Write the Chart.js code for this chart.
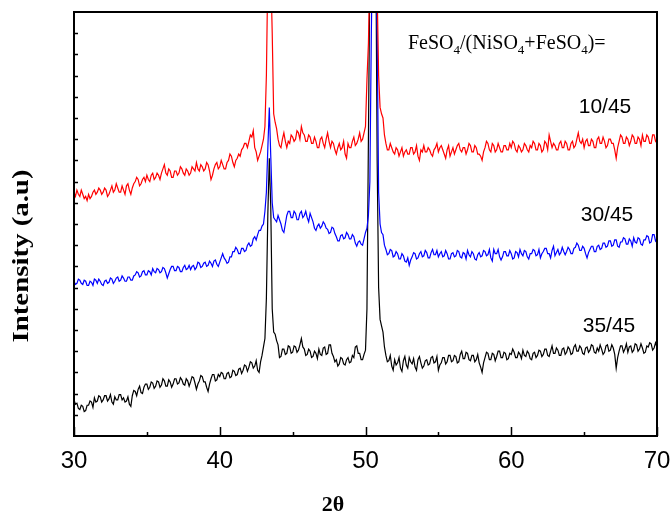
<!DOCTYPE html>
<html>
<head>
<meta charset="utf-8">
<title>XRD patterns</title>
<script src="https://cdn.jsdelivr.net/npm/chart.js@4.4.1/dist/chart.umd.min.js"></script>
<style>
  html, body { margin: 0; padding: 0; background: #fff; }
  #wrap { width: 672px; height: 514px; }
</style>
</head>
<body>
<div id="wrap"><canvas id="xrd" width="672" height="514"></canvas></div>
<script>
// 2theta sampling points, one row per degree
const twoTheta = [
  30.0, 30.1, 30.2, 30.3, 30.4, 30.5, 30.6, 30.7, 30.8, 30.9,
  31.0, 31.1, 31.2, 31.3, 31.4, 31.5, 31.6, 31.7, 31.8, 31.9,
  32.0, 32.1, 32.2, 32.3, 32.4, 32.5, 32.6, 32.7, 32.8, 32.9,
  33.0, 33.1, 33.2, 33.3, 33.4, 33.5, 33.6, 33.7, 33.8, 33.9,
  34.0, 34.1, 34.2, 34.3, 34.4, 34.5, 34.6, 34.7, 34.8, 34.9,
  35.0, 35.1, 35.2, 35.3, 35.4, 35.5, 35.6, 35.7, 35.8, 35.9,
  36.0, 36.1, 36.2, 36.3, 36.4, 36.5, 36.6, 36.7, 36.8, 36.9,
  37.0, 37.1, 37.2, 37.3, 37.4, 37.5, 37.6, 37.7, 37.8, 37.9,
  38.0, 38.1, 38.2, 38.3, 38.4, 38.5, 38.6, 38.7, 38.8, 38.9,
  39.0, 39.1, 39.2, 39.3, 39.4, 39.5, 39.6, 39.7, 39.8, 39.9,
  40.0, 40.1, 40.2, 40.3, 40.4, 40.5, 40.6, 40.7, 40.8, 40.9,
  41.0, 41.1, 41.2, 41.3, 41.4, 41.5, 41.6, 41.7, 41.8, 41.9,
  42.0, 42.1, 42.2, 42.3, 42.4, 42.5, 42.6, 42.7, 42.8, 42.9,
  43.0, 43.1, 43.2, 43.3, 43.4, 43.5, 43.6, 43.7, 43.8, 43.9,
  44.0, 44.1, 44.2, 44.3, 44.4, 44.5, 44.6, 44.7, 44.8, 44.9,
  45.0, 45.1, 45.2, 45.3, 45.4, 45.5, 45.6, 45.7, 45.8, 45.9,
  46.0, 46.1, 46.2, 46.3, 46.4, 46.5, 46.6, 46.7, 46.8, 46.9,
  47.0, 47.1, 47.2, 47.3, 47.4, 47.5, 47.6, 47.7, 47.8, 47.9,
  48.0, 48.1, 48.2, 48.3, 48.4, 48.5, 48.6, 48.7, 48.8, 48.9,
  49.0, 49.1, 49.2, 49.3, 49.4, 49.5, 49.6, 49.7, 49.8, 49.9,
  50.0, 50.1, 50.2, 50.3, 50.4, 50.5, 50.6, 50.7, 50.8, 50.9,
  51.0, 51.1, 51.2, 51.3, 51.4, 51.5, 51.6, 51.7, 51.8, 51.9,
  52.0, 52.1, 52.2, 52.3, 52.4, 52.5, 52.6, 52.7, 52.8, 52.9,
  53.0, 53.1, 53.2, 53.3, 53.4, 53.5, 53.6, 53.7, 53.8, 53.9,
  54.0, 54.1, 54.2, 54.3, 54.4, 54.5, 54.6, 54.7, 54.8, 54.9,
  55.0, 55.1, 55.2, 55.3, 55.4, 55.5, 55.6, 55.7, 55.8, 55.9,
  56.0, 56.1, 56.2, 56.3, 56.4, 56.5, 56.6, 56.7, 56.8, 56.9,
  57.0, 57.1, 57.2, 57.3, 57.4, 57.5, 57.6, 57.7, 57.8, 57.9,
  58.0, 58.1, 58.2, 58.3, 58.4, 58.5, 58.6, 58.7, 58.8, 58.9,
  59.0, 59.1, 59.2, 59.3, 59.4, 59.5, 59.6, 59.7, 59.8, 59.9,
  60.0, 60.1, 60.2, 60.3, 60.4, 60.5, 60.6, 60.7, 60.8, 60.9,
  61.0, 61.1, 61.2, 61.3, 61.4, 61.5, 61.6, 61.7, 61.8, 61.9,
  62.0, 62.1, 62.2, 62.3, 62.4, 62.5, 62.6, 62.7, 62.8, 62.9,
  63.0, 63.1, 63.2, 63.3, 63.4, 63.5, 63.6, 63.7, 63.8, 63.9,
  64.0, 64.1, 64.2, 64.3, 64.4, 64.5, 64.6, 64.7, 64.8, 64.9,
  65.0, 65.1, 65.2, 65.3, 65.4, 65.5, 65.6, 65.7, 65.8, 65.9,
  66.0, 66.1, 66.2, 66.3, 66.4, 66.5, 66.6, 66.7, 66.8, 66.9,
  67.0, 67.1, 67.2, 67.3, 67.4, 67.5, 67.6, 67.7, 67.8, 67.9,
  68.0, 68.1, 68.2, 68.3, 68.4, 68.5, 68.6, 68.7, 68.8, 68.9,
  69.0, 69.1, 69.2, 69.3, 69.4, 69.5, 69.6, 69.7, 69.8, 69.9,
  70.0
];

// FeSO4/(NiSO4+FeSO4) = 10/45 (red), offset trace
const ratio10 = [
  11.5, 11.3, 11.6, 11.4, 11.3, 11.6, 11.4, 11.2, 11.3, 11.1,
  11.4, 11.2, 11.3, 11.5, 11.6, 11.4, 11.5, 11.7, 11.6, 11.4,
  11.5, 11.7, 11.6, 11.3, 11.4, 11.6, 11.8, 11.5, 11.6, 11.9,
  11.7, 11.5, 11.5, 11.8, 11.6, 11.4, 11.8, 11.9, 11.6, 11.4,
  11.7, 11.9, 12.0, 12.2, 12.1, 11.8, 11.9, 12.1, 12.2, 12.0,
  12.3, 12.1, 12.0, 12.3, 12.4, 12.1, 12.2, 12.4, 12.3, 12.1,
  12.4, 12.6, 12.8, 12.4, 12.3, 12.6, 12.5, 12.2, 12.2, 12.5,
  12.5, 12.3, 12.4, 12.7, 12.6, 12.4, 12.3, 12.6, 12.5, 12.3,
  12.4, 12.7, 12.6, 12.5, 12.9, 12.6, 12.5, 12.8, 12.7, 12.5,
  12.6, 12.9, 12.8, 12.5, 12.1, 12.3, 12.6, 12.8, 12.9, 12.6,
  12.7, 13.0, 12.8, 12.6, 12.6, 12.9, 13.0, 13.3, 13.2, 12.9,
  12.7, 13.0, 13.1, 13.3, 13.2, 13.5, 13.6, 13.8, 13.8, 13.6,
  13.9, 14.2, 14.1, 14.4, 13.6, 13.4, 13.0, 13.2, 13.4, 13.7,
  14.0, 14.6, 17.0, 22, 22, 22, 19, 15.2, 14.8, 14.5,
  14.0, 13.7, 13.6, 14.0, 14.3, 13.9, 13.6, 13.9, 13.8, 14.2,
  14.1, 13.9, 14.0, 14.4, 14.3, 14.0, 14.6, 14.3, 14.2, 13.9,
  13.9, 14.2, 14.1, 13.8, 13.8, 14.1, 13.9, 13.6, 13.6, 14.0,
  14.1, 13.8, 13.6, 14.0, 14.3, 13.9, 13.6, 13.9, 13.8, 13.5,
  13.3, 13.6, 13.8, 13.5, 13.6, 13.9, 13.3, 13.1, 13.8, 13.6,
  13.6, 13.9, 14.1, 13.7, 13.8, 14.0, 14.3, 13.9, 14.0, 14.3,
  14.6, 16.8, 18.5, 22, 22, 22, 22, 22, 21, 17,
  15.5, 15.2, 15.0, 14.2, 13.8, 13.5, 13.5, 13.8, 13.6, 13.4,
  13.3, 13.6, 13.5, 13.2, 13.4, 13.6, 13.2, 13.4, 13.5, 13.3,
  13.3, 13.6, 13.6, 13.3, 13.4, 13.7, 13.2, 13.0, 13.5, 13.4,
  13.7, 13.4, 13.4, 13.6, 13.5, 13.3, 13.2, 13.5, 13.6, 13.8,
  13.4, 13.6, 13.7, 13.5, 13.3, 13.1, 13.5, 13.7, 13.2, 13.4,
  13.6, 13.3, 13.5, 13.7, 13.8, 13.5, 13.4, 13.6, 13.6, 13.3,
  13.5, 13.8, 13.7, 13.4, 13.4, 13.7, 13.6, 13.3, 13.3, 13.2,
  13.0, 13.4, 13.6, 13.9, 13.8, 13.5, 13.4, 13.8, 13.7, 13.4,
  13.5, 13.8, 13.6, 13.4, 13.4, 13.7, 13.7, 13.5, 13.5, 13.8,
  13.6, 13.9, 13.8, 13.5, 13.4, 13.7, 13.6, 13.4, 13.5, 13.8,
  13.7, 13.5, 13.4, 13.7, 13.6, 13.9, 13.8, 13.5, 13.5, 13.8,
  13.7, 13.4, 13.5, 13.9, 13.8, 13.5, 14.2, 13.9, 13.6, 13.8,
  13.7, 13.5, 13.5, 13.8, 13.9, 13.6, 13.6, 13.9, 13.8, 13.5,
  13.5, 13.8, 13.9, 13.6, 13.7, 14.0, 14.3, 13.9, 13.8, 14.0,
  13.6, 13.9, 14.0, 13.7, 13.7, 14.0, 13.9, 13.6, 13.6, 14.0,
  14.1, 13.8, 13.8, 14.1, 13.9, 13.6, 13.7, 14.0, 14.0, 13.8,
  13.8, 13.5, 13.1, 13.6, 13.9, 14.2, 14.1, 13.8, 13.8, 14.1,
  14.0, 13.7, 13.9, 14.2, 14.1, 13.8, 13.8, 14.1, 14.0, 13.7,
  14.2, 13.9, 13.9, 14.2, 14.1, 13.8, 13.8, 14.2, 14.2, 13.9,
  14.0
];

// 30/45 (blue)
const ratio30 = [
  7.3, 7.15, 7.2, 7.4, 7.35, 7.2, 7.15, 7.35, 7.3, 7.1,
  7.1, 7.3, 7.25, 7.1, 7.4, 7.35, 7.2, 7.4, 7.3, 7.15,
  7.1, 7.3, 7.35, 7.2, 7.25, 7.45, 7.4, 7.2, 7.3, 7.45,
  7.5, 7.3, 7.35, 7.55, 7.45, 7.3, 7.3, 7.5, 7.5, 7.35,
  7.35, 7.55, 7.6, 7.75, 7.7, 7.5, 7.55, 7.75, 7.8, 7.6,
  7.6, 7.8, 7.75, 7.6, 7.9, 7.75, 7.7, 7.9, 7.85, 7.7,
  7.75, 7.95, 7.9, 7.7, 7.45, 7.65, 7.85, 8.0, 8.0, 7.8,
  7.8, 8.0, 7.95, 7.75, 7.75, 7.95, 8.05, 7.85, 7.9, 8.05,
  7.85, 8.0, 8.05, 7.85, 7.95, 8.2, 8.15, 7.95, 8.0, 8.15,
  8.2, 8.0, 8.05, 8.25, 8.15, 8.0, 8.25, 8.3, 8.1, 8.0,
  8.2, 8.4, 8.6, 8.4, 8.3, 8.15, 8.2, 8.45, 8.45, 8.7,
  8.7, 8.9, 8.8, 8.6, 8.6, 8.85, 8.85, 8.7, 8.75, 9.0,
  9.1, 8.95, 9.0, 9.3, 9.4, 9.25, 9.5, 9.7, 9.7, 9.9,
  10.0, 10.6, 11.5, 13.6, 15.5, 13.2, 11.0, 10.3, 10.2, 10.1,
  10.4, 10.2, 10.0, 9.7, 9.6, 10.0, 10.4, 10.6, 10.6, 10.3,
  10.3, 10.6, 10.5, 10.2, 10.2, 10.5, 10.6, 10.3, 10.4, 10.6,
  10.3, 10.1, 10.5, 10.3, 10.1, 9.8, 9.7, 9.9, 10.0, 9.8,
  9.9, 10.1, 10.0, 9.8, 9.75, 9.55, 9.6, 9.85, 9.8, 9.55,
  9.4, 9.2, 9.2, 9.45, 9.5, 9.3, 9.35, 9.6, 9.5, 9.3,
  9.3, 9.5, 9.4, 9.1, 8.95, 9.15, 9.2, 9.05, 9.0, 9.3,
  9.6, 9.8, 10.4, 12.0, 19, 24, 24, 24, 19, 11.5,
  10.0, 9.6, 9.5, 9.0, 8.8, 8.55, 8.6, 8.8, 8.75, 8.45,
  8.5, 8.7, 8.6, 8.35, 8.35, 8.6, 8.5, 8.25, 8.2, 8.4,
  8.05, 8.3, 8.45, 8.65, 8.6, 8.35, 8.4, 8.6, 8.7, 8.45,
  8.5, 8.75, 8.65, 8.4, 8.4, 8.65, 8.8, 8.55, 8.55, 8.75,
  8.45, 8.6, 8.7, 8.45, 8.5, 8.75, 8.6, 8.35, 8.35, 8.6,
  8.65, 8.45, 8.5, 8.75, 8.7, 8.45, 8.4, 8.65, 8.6, 8.35,
  8.75, 8.55, 8.45, 8.7, 8.6, 8.35, 8.3, 8.55, 8.65, 8.45,
  8.5, 8.75, 8.7, 8.5, 8.55, 8.8, 8.4, 8.25, 8.8, 8.6,
  8.6, 8.8, 8.45, 8.3, 8.45, 8.7, 8.7, 8.5, 8.5, 8.75,
  8.6, 8.35, 8.4, 8.7, 8.65, 8.45, 8.8, 8.6, 8.5, 8.75,
  8.7, 8.45, 8.35, 8.6, 8.6, 8.8, 8.75, 8.5, 8.55, 8.8,
  8.4, 8.6, 8.7, 8.85, 8.85, 8.6, 8.6, 8.4, 8.75, 8.95,
  8.5, 8.65, 8.8, 8.55, 8.65, 8.9, 8.7, 8.55, 8.7, 8.9,
  8.8, 8.6, 8.6, 8.85, 8.9, 9.1, 9.0, 8.75, 8.75, 8.95,
  8.85, 8.6, 8.4, 8.65, 8.8, 8.95, 8.95, 8.7, 8.7, 8.95,
  9.0, 8.8, 8.85, 9.1, 9.1, 8.9, 8.95, 9.2, 9.2, 8.95,
  9.0, 9.25, 9.25, 8.95, 8.9, 9.15, 9.15, 9.35, 9.3, 9.05,
  9.05, 9.3, 9.2, 8.95, 9.35, 9.15, 9.1, 9.35, 9.3, 9.05,
  9.0, 9.25, 9.25, 9.45, 9.4, 9.1, 9.15, 9.5, 9.5, 9.2,
  9.3
];

// 35/45 (black)
const ratio35 = [
  1.7, 1.5, 1.55, 1.3, 1.25, 1.45, 1.4, 1.15, 1.2, 1.45,
  1.45, 1.65, 1.6, 1.35, 1.8, 1.6, 1.65, 1.9, 1.85, 1.6,
  1.7, 1.9, 1.9, 1.65, 1.75, 1.95, 1.6, 1.5, 1.85, 1.7,
  1.7, 1.95, 1.95, 1.7, 1.8, 1.6, 1.65, 1.85, 1.5, 1.4,
  1.9, 2.15, 2.1, 1.9, 2.2, 2.35, 2.05, 2.0, 2.3, 2.45,
  2.45, 2.2, 2.3, 2.55, 2.5, 2.25, 2.35, 2.6, 2.55, 2.3,
  2.4, 2.7, 2.6, 2.35, 2.35, 2.65, 2.55, 2.3, 2.45, 2.7,
  2.7, 2.45, 2.5, 2.75, 2.65, 2.45, 2.4, 2.7, 2.6, 2.35,
  2.55, 2.8, 2.75, 2.5, 2.2, 2.45, 2.6, 2.85, 2.8, 2.55,
  2.55, 2.3, 2.1, 2.45, 2.7, 2.9, 2.9, 2.6, 2.65, 2.9,
  2.8, 3.0, 2.95, 2.7, 2.7, 2.95, 3.0, 2.75, 2.8, 3.1,
  3.05, 2.85, 2.9, 3.15, 3.2, 2.95, 3.1, 3.35, 3.3, 3.05,
  3.25, 3.5, 3.45, 3.2, 3.3, 3.55, 3.1, 3.0, 3.5, 3.8,
  4.2, 4.6, 6.5, 10.5, 13.1, 10.8, 6.0, 4.9, 4.8, 4.5,
  4.3, 3.7, 3.75, 4.1, 4.1, 3.85, 3.9, 4.25, 4.2, 3.9,
  3.95, 4.25, 4.2, 3.95, 4.05, 4.3, 4.6, 4.2, 4.1, 3.8,
  3.85, 4.1, 4.0, 3.7, 3.75, 4.0, 3.9, 3.65, 4.1, 3.85,
  3.8, 4.15, 4.2, 3.85, 3.9, 4.3, 4.3, 3.9, 3.75, 3.5,
  3.6, 3.3, 3.4, 3.7, 3.65, 3.4, 3.35, 3.6, 3.7, 3.45,
  3.5, 3.8, 3.7, 4.2, 4.25, 3.9, 3.9, 3.6, 3.6, 3.85,
  4.05, 6.0, 14, 22, 24, 24, 24, 24, 13, 7.0,
  5.5, 5.2, 4.9, 4.2, 3.8, 3.5, 3.55, 3.8, 3.3, 3.1,
  3.6, 3.35, 3.45, 3.7, 3.2, 3.05, 3.55, 3.75, 3.35, 3.2,
  3.7, 3.5, 3.4, 3.65, 3.25, 3.1, 3.6, 3.75, 3.45, 3.2,
  3.3, 3.55, 3.6, 3.35, 3.4, 3.7, 3.75, 3.45, 3.5, 3.75,
  3.1, 3.35, 3.45, 3.7, 3.7, 3.4, 3.5, 3.8, 3.8, 3.5,
  3.55, 3.8, 3.75, 3.45, 3.5, 3.85, 4.0, 3.65, 3.65, 3.95,
  3.9, 3.6, 3.55, 3.8, 3.8, 3.5, 3.6, 3.85, 3.45, 3.25,
  3.0, 3.45, 3.7, 3.95, 3.9, 3.6, 3.6, 3.9, 3.85, 3.55,
  3.75, 4.0, 4.0, 3.7, 3.7, 3.95, 3.9, 3.6, 3.65, 3.9,
  3.85, 4.1, 3.95, 3.7, 3.7, 3.95, 3.85, 3.65, 4.05, 3.8,
  3.75, 4.0, 3.9, 3.65, 3.6, 3.9, 3.95, 3.7, 3.8, 4.05,
  4.0, 3.75, 3.85, 4.1, 4.1, 3.8, 3.75, 4.0, 4.25, 3.9,
  3.9, 4.15, 4.05, 3.8, 3.8, 4.1, 4.15, 3.85, 3.95, 4.2,
  4.1, 3.85, 3.9, 4.2, 4.3, 4.0, 4.0, 4.25, 4.15, 3.9,
  3.85, 4.15, 4.2, 3.95, 4.05, 4.3, 4.25, 3.95, 3.9, 4.15,
  4.0, 4.3, 4.1, 3.85, 3.95, 4.25, 4.3, 4.0, 4.05, 4.3,
  4.15, 3.85, 3.2, 3.7, 4.0, 4.25, 4.25, 3.95, 4.1, 4.35,
  3.95, 4.2, 4.25, 3.95, 4.05, 4.35, 4.3, 4.0, 4.1, 4.35,
  4.15, 3.9, 3.95, 4.25, 4.2, 4.4, 4.35, 4.05, 4.15, 4.4,
  4.2
];

const xMajorTicks = [30, 40, 50, 60, 70];
const xMinorTicks = [35, 45, 55, 65];
const seriesNames = ['10/45', '30/45', '35/45'];

function toPoints(ys) {
  return twoTheta.map((x, i) => ({ x: x, y: ys[i] }));
}

const SERIF = '"Liberation Serif", "Times New Roman", serif';
const SANS = '"Liberation Sans", Arial, sans-serif';

// frame, inward ticks, labels and annotations
const decorations = {
  id: 'decorations',
  afterDatasetsDraw(chart) {
    const ctx = chart.ctx;
    const a = chart.chartArea;
    const xs = chart.scales.x;
    const ys = chart.scales.y;
    ctx.save();

    // ticks pointing into the plot
    ctx.strokeStyle = '#000';
    ctx.lineWidth = 1.5;
    ctx.beginPath();
    xMajorTicks.forEach(v => {
      const px = Math.round(xs.getPixelForValue(v)) + 0.5;
      ctx.moveTo(px, a.bottom);
      ctx.lineTo(px, a.bottom - 9);
    });
    xMinorTicks.forEach(v => {
      const px = Math.round(xs.getPixelForValue(v)) + 0.5;
      ctx.moveTo(px, a.bottom);
      ctx.lineTo(px, a.bottom - 4);
    });
    for (let v = 1; v < 20; v++) {
      const py = Math.round(ys.getPixelForValue(v)) + 0.5;
      ctx.moveTo(a.left, py);
      ctx.lineTo(a.left + 4, py);
    }
    ctx.stroke();

    // frame
    ctx.lineWidth = 2;
    ctx.strokeRect(a.left, a.top, a.right - a.left, a.bottom - a.top);

    // x tick labels
    ctx.fillStyle = '#000';
    ctx.font = '24px ' + SANS;
    ctx.textAlign = 'center';
    ctx.textBaseline = 'alphabetic';
    xMajorTicks.forEach(v => ctx.fillText(String(v), xs.getPixelForValue(v), 468));

    // axis titles
    ctx.font = 'bold 22px ' + SERIF;
    ctx.fillText('2\u03B8', 333, 511);

    ctx.save();
    ctx.translate(28, 256);
    ctx.rotate(-Math.PI / 2);
    ctx.font = 'bold 24px ' + SERIF;
    const yTitle = 'Intensity (a.u)';
    const w = ctx.measureText(yTitle).width;
    ctx.scale(173 / w, 1);
    ctx.fillText(yTitle, 0, 0);
    ctx.restore();

    // composition header with subscripts
    const parts = [['FeSO', false], ['4', true], ['/(NiSO', false], ['4', true],
                   ['+FeSO', false], ['4', true], [')=', false]];
    let x = 408;
    ctx.textAlign = 'left';
    parts.forEach(([txt, sub]) => {
      ctx.font = (sub ? '13px ' : '20px ') + SERIF;
      ctx.fillText(txt, x, sub ? 54 : 49);
      x += ctx.measureText(txt).width;
    });

    // series labels
    ctx.font = '21px ' + SANS;
    ctx.textAlign = 'center';
    ctx.fillText(seriesNames[0], 605, 113);
    ctx.fillText(seriesNames[1], 607, 221);
    ctx.fillText(seriesNames[2], 609, 332);

    ctx.restore();
  }
};

new Chart(document.getElementById('xrd'), {
  type: 'line',
  data: {
    datasets: [
      { label: seriesNames[0], data: toPoints(ratio10), borderColor: '#ff0000' },
      { label: seriesNames[1], data: toPoints(ratio30), borderColor: '#0000ff' },
      { label: seriesNames[2], data: toPoints(ratio35), borderColor: '#000000' }
    ]
  },
  options: {
    responsive: false,
    animation: false,
    layout: { padding: { left: 74, right: 15, top: 12, bottom: 78 } },
    elements: {
      line: { borderWidth: 1.2, tension: 0, fill: false },
      point: { radius: 0 }
    },
    scales: {
      x: { type: 'linear', min: 30, max: 70, display: false },
      y: { type: 'linear', min: 0, max: 20, display: false }
    },
    plugins: {
      legend: { display: false },
      tooltip: { enabled: false }
    }
  },
  plugins: [decorations]
});
</script>
</body>
</html>
